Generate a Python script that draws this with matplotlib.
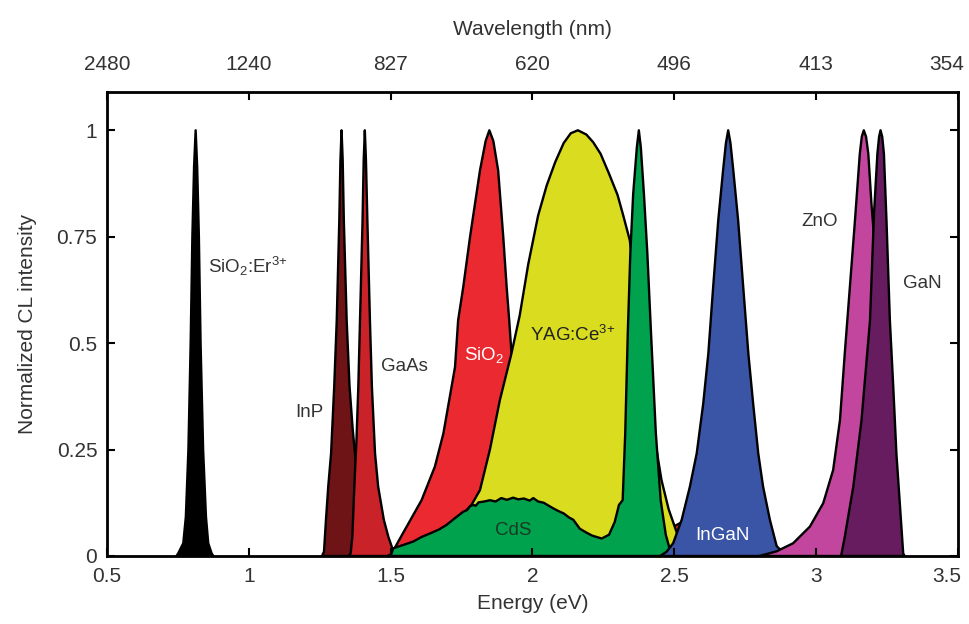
import matplotlib
matplotlib.use('Agg')
import matplotlib.pyplot as plt
import matplotlib.transforms as mtransforms

plt.rcParams['font.family'] = ['Liberation Sans', 'DejaVu Sans']
plt.rcParams['mathtext.fontset'] = 'custom'
plt.rcParams['mathtext.rm'] = 'Liberation Sans'
plt.rcParams['mathtext.default'] = 'regular'

# spectra: energy (eV), normalized intensity
er_E = [0.745, 0.751, 0.769, 0.778, 0.787, 0.795, 0.801, 0.807, 0.8126, 0.818, 0.824, 0.830, 0.839, 0.849, 0.857, 0.869, 0.875]
er_I = [0, 0.006, 0.03, 0.092, 0.249, 0.50, 0.75, 0.914, 1.0, 0.914, 0.75, 0.50, 0.249, 0.092, 0.03, 0.006, 0]

inp_E = [1.258, 1.265, 1.272, 1.280, 1.290, 1.301, 1.310, 1.319, 1.323, 1.327, 1.331, 1.335, 1.345, 1.355, 1.366, 1.38, 1.40, 1.42]
inp_I = [0, 0.01, 0.085, 0.163, 0.241, 0.397, 0.554, 0.789, 0.93, 1.0, 0.93, 0.789, 0.554, 0.40, 0.30, 0.2, 0.08, 0]

gaas_E = [1.352, 1.359, 1.365, 1.372, 1.380, 1.386, 1.392, 1.401, 1.405, 1.409, 1.413, 1.418, 1.427, 1.434, 1.445, 1.456, 1.476, 1.492, 1.509, 1.53]
gaas_I = [0, 0.006, 0.045, 0.163, 0.28, 0.397, 0.554, 0.789, 0.93, 1.0, 0.93, 0.789, 0.554, 0.397, 0.241, 0.163, 0.085, 0.045, 0.012, 0]

sio2_E = [1.49, 1.503, 1.543, 1.609, 1.656, 1.686, 1.727, 1.738, 1.756, 1.780, 1.815, 1.835, 1.848, 1.862, 1.879, 1.897, 1.909, 1.918, 1.926,
          1.95, 1.98, 2.05, 2.2, 2.4, 2.5, 2.52, 2.55, 2.65, 2.70, 2.78, 2.85, 2.95]
sio2_I = [0, 0.005, 0.053, 0.131, 0.21, 0.288, 0.444, 0.554, 0.632, 0.75, 0.906, 0.975, 1.0, 0.975, 0.906, 0.75, 0.632, 0.554, 0.476,
          0.3, 0.15, 0.05, 0.03, 0.05, 0.07, 0.077, 0.085, 0.1, 0.1, 0.06, 0.02, 0]

yag_E = [1.55, 1.70, 1.785, 1.815, 1.85, 1.885, 1.926, 1.955, 1.985, 2.020, 2.05, 2.08, 2.11, 2.135, 2.160, 2.19, 2.214, 2.24, 2.27,
         2.300, 2.320, 2.343, 2.38, 2.42, 2.455, 2.48, 2.514, 2.56]
yag_I = [0, 0.06, 0.12, 0.155, 0.25, 0.366, 0.476, 0.565, 0.685, 0.80, 0.87, 0.925, 0.97, 0.993, 1.0, 0.99, 0.972, 0.945, 0.898,
         0.848, 0.80, 0.742, 0.55, 0.32, 0.178, 0.11, 0.045, 0]

cds_E = [1.50, 1.509, 1.545, 1.580, 1.610, 1.639, 1.670, 1.697, 1.725, 1.756, 1.77, 1.78, 1.791, 1.80, 1.81, 1.83, 1.85, 1.87, 1.89,
         1.91, 1.932, 1.95, 1.97, 1.99, 2.003, 2.02, 2.04, 2.06, 2.073, 2.09, 2.11, 2.13, 2.144, 2.167, 2.19, 2.21, 2.244,
         2.27, 2.29, 2.305, 2.318, 2.327, 2.336, 2.345, 2.355, 2.368, 2.375, 2.382, 2.393, 2.405, 2.418, 2.435, 2.452, 2.47,
         2.485, 2.50]
cds_I = [0, 0.018, 0.026, 0.034, 0.045, 0.053, 0.062, 0.073, 0.088, 0.104, 0.108, 0.117, 0.120, 0.118, 0.126, 0.128, 0.131, 0.128,
         0.136, 0.132, 0.137, 0.133, 0.135, 0.130, 0.136, 0.128, 0.125, 0.117, 0.112, 0.106, 0.100, 0.090, 0.085, 0.064, 0.055,
         0.048, 0.041, 0.05, 0.08, 0.12, 0.131, 0.288, 0.523, 0.711, 0.85, 0.96, 1.0, 0.96, 0.85, 0.711, 0.523, 0.288, 0.131,
         0.05, 0.014, 0]

ingan_E = [2.45, 2.473, 2.496, 2.526, 2.555, 2.579, 2.602, 2.620, 2.637, 2.655, 2.672, 2.682, 2.690, 2.698, 2.708, 2.725, 2.743,
           2.761, 2.778, 2.796, 2.813, 2.837, 2.861, 2.884, 2.92]
ingan_I = [0, 0.01, 0.03, 0.085, 0.163, 0.241, 0.358, 0.476, 0.632, 0.789, 0.906, 0.97, 1.0, 0.97, 0.906, 0.789, 0.632,
           0.476, 0.358, 0.241, 0.163, 0.085, 0.023, 0.008, 0]

zno_E = [2.80, 2.861, 2.919, 2.978, 3.025, 3.060, 3.084, 3.101, 3.119, 3.137, 3.154, 3.161, 3.168, 3.176, 3.184, 3.195, 3.21,
         3.23, 3.25, 3.28, 3.30]
zno_I = [0, 0.011, 0.030, 0.069, 0.124, 0.202, 0.319, 0.476, 0.632, 0.789, 0.945, 0.985, 1.0, 0.985, 0.945, 0.828, 0.7,
         0.4, 0.2, 0.05, 0]

gan_E = [3.088, 3.101, 3.131, 3.160, 3.190, 3.204, 3.216, 3.222, 3.227, 3.233, 3.239, 3.248, 3.260, 3.272, 3.283, 3.295, 3.307, 3.312]
gan_I = [0, 0.045, 0.163, 0.319, 0.554, 0.804, 0.945, 0.985, 1.0, 0.985, 0.945, 0.789, 0.554, 0.397, 0.241, 0.124, 0.006, 0]

spectra = [
    (er_E, er_I, '#000000'),
    (inp_E, inp_I, '#6e1416'),
    (gaas_E, gaas_I, '#c92229'),
    (sio2_E, sio2_I, '#ea2a30'),
    (yag_E, yag_I, '#d9dc1f'),
    (cds_E, cds_I, '#00a24e'),
    (ingan_E, ingan_I, '#3a55a6'),
    (zno_E, zno_I, '#c2469d'),
    (gan_E, gan_I, '#661c5e'),
]

energy_ticks = [0.5, 1, 1.5, 2, 2.5, 3, 3.5]
energy_labels = ['0.5', '1', '1.5', '2', '2.5', '3', '3.5']
wavelength_labels = ['2480', '1240', '827', '620', '496', '413', '354']
y_ticks = [0, 0.25, 0.5, 0.75, 1]
y_labels = ['0', '0.25', '0.5', '0.75', '1']

fig = plt.figure(figsize=(9.69, 6.24), dpi=100)
ax = fig.add_axes([0.1104, 0.109, 0.8782, 0.7436])

for E, I, c in spectra:
    ax.fill(E, I, facecolor=c, edgecolor='black', linewidth=1.7, joinstyle='round')

ax.set_xlim(0.5, 3.5)
ax.set_ylim(0, 1.09)

txt = '#333333'
tfs = 15
lfs = 15
ax.set_xticks(energy_ticks)
ax.set_xticklabels(energy_labels)
ax.set_yticks(y_ticks)
ax.set_yticklabels(y_labels)
ax.tick_params(axis='x', pad=8)
ax.tick_params(axis='y', pad=7)
ax.tick_params(direction='in', length=6, width=1.5, labelsize=tfs, colors='black',
               labelcolor=txt, top=False, right=True)
ax.set_xlabel('Energy (eV)', fontsize=lfs, color=txt, labelpad=6)
ax.set_ylabel('Normalized CL intensity', fontsize=lfs, color=txt, labelpad=14)
for s in ax.spines.values():
    s.set_linewidth(2)

top = ax.twiny()
top.set_xlim(ax.get_xlim())
top.set_xticks(energy_ticks)
top.set_xticklabels(wavelength_labels)
top.tick_params(direction='in', length=6, width=1.5, labelsize=tfs, labelcolor=txt, pad=13)
top.set_xlabel('Wavelength (nm)', fontsize=lfs, color=txt, labelpad=14)

# keep the last labels inside the figure
shift = mtransforms.ScaledTranslation(-8 / 72, 0, fig.dpi_scale_trans)
for lab in (top.get_xticklabels()[-1], ax.get_xticklabels()[-1]):
    lab.set_transform(lab.get_transform() + shift)

fs = 13.5
ax.text(0.855, 0.68, 'SiO$_2$:Er$^{3{+}}$', fontsize=fs, color=txt, ha='left', va='center')
ax.text(1.215, 0.336, 'InP', fontsize=fs, color=txt, ha='center', va='center')
ax.text(1.55, 0.444, 'GaAs', fontsize=fs, color=txt, ha='center', va='center')
ax.text(1.829, 0.472, 'SiO$_2$', fontsize=fs, color='white', ha='center', va='center')
ax.text(2.14, 0.52, 'YAG:Ce$^{3{+}}$', fontsize=fs, color='#222222', ha='center', va='center')
ax.text(1.931, 0.061, 'CdS', fontsize=fs, color='#1a3a22', ha='center', va='center')
ax.text(2.668, 0.049, 'InGaN', fontsize=fs, color='white', ha='center', va='center')
ax.text(3.013, 0.786, 'ZnO', fontsize=fs, color=txt, ha='center', va='center')
ax.text(3.376, 0.641, 'GaN', fontsize=fs, color=txt, ha='center', va='center')

fig.savefig('out.png', dpi=100)
